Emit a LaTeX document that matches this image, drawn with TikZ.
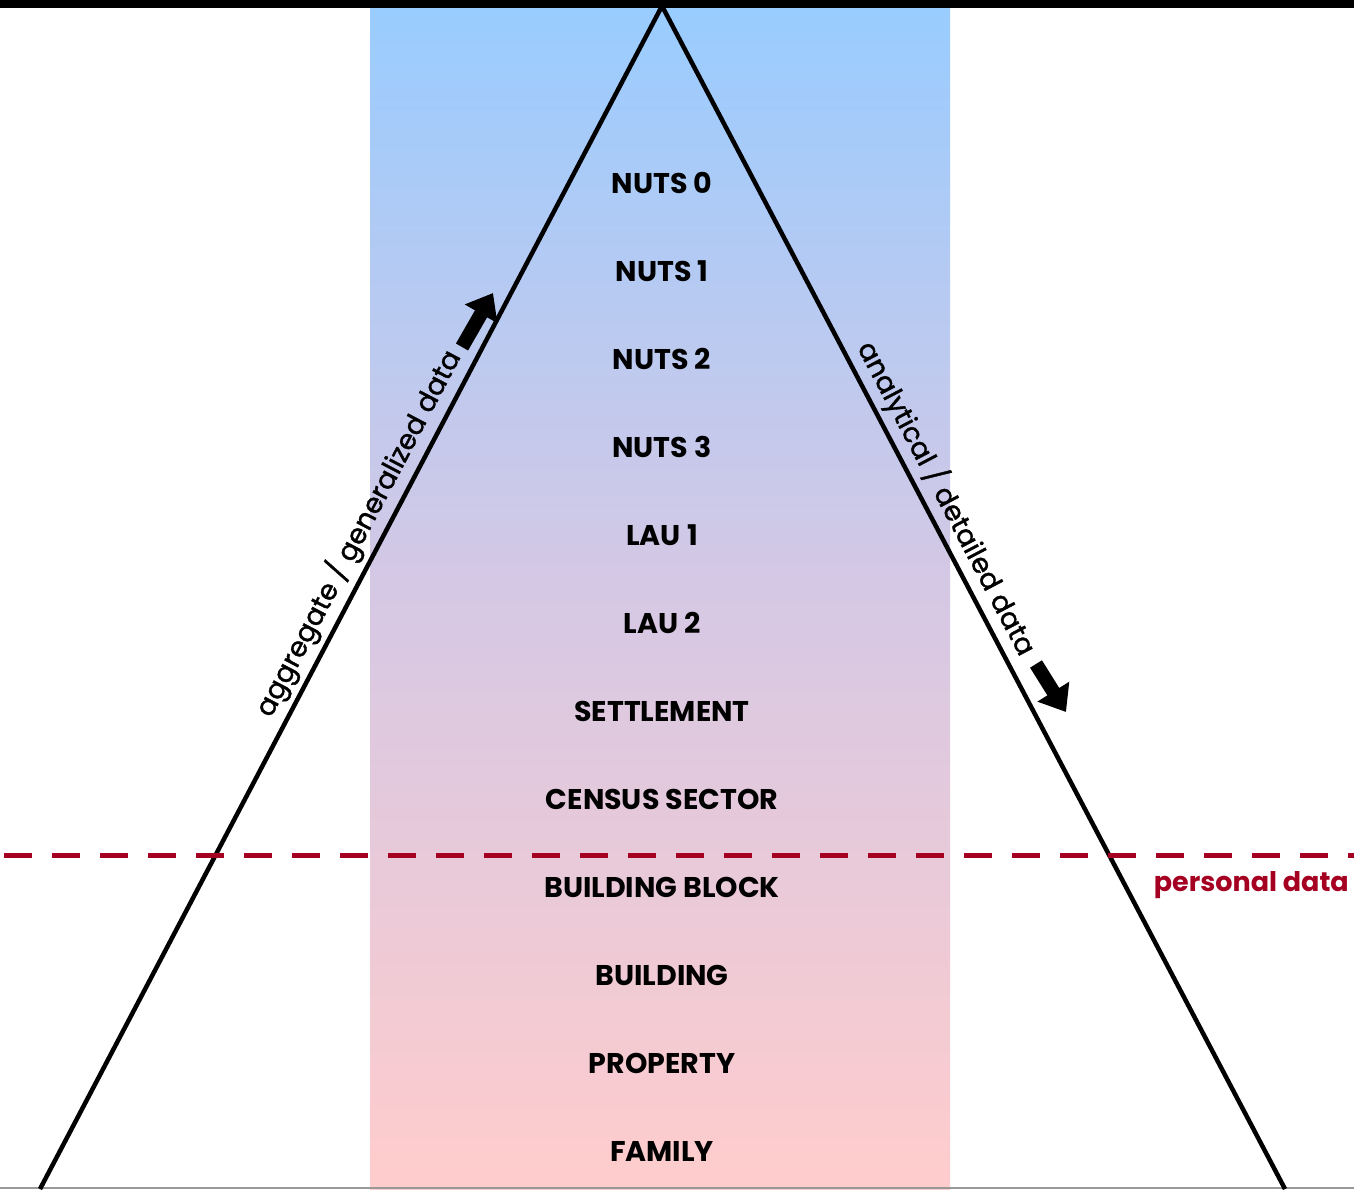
\documentclass[tikz,border=0pt]{standalone}
\usepackage{fontspec}
\setmainfont{Poppins}
\newfontfamily\sidefont[FakeBold=1.3]{Poppins}
\usetikzlibrary{arrows.meta}
\definecolor{topblue}{HTML}{99CCFF}
\definecolor{midlav}{HTML}{D6C8E4}
\definecolor{botpink}{HTML}{FFCCCC}
\definecolor{pdred}{HTML}{A50021}
\tikzset{
  level/.style={font=\fontsize{28.5}{30}\selectfont\bfseries, text=black, inner sep=0pt, anchor=center},
  side/.style={font=\sidefont\fontsize{27.5}{30}\selectfont, text=black, inner sep=0pt},
  blockarrow/.style={line width=14pt, -{Triangle[length=24pt,width=36pt]}, black},
  edge/.style={line width=4.5pt, black, line join=miter},
}
\begin{document}
\begin{tikzpicture}[x=1pt,y=-1pt]
\useasboundingbox (0,0) rectangle (1354,1189);
\fill[white] (0,0) rectangle (1354,1189);
\shade[top color=topblue, bottom color=botpink, middle color=midlav] (370,8) rectangle (950,1189);
\fill[black] (0,0) rectangle (1354,8);
\draw[gray!80, line width=2pt] (0,1188) -- (1354,1188);
\coordinate (L) at (40,1189);
\coordinate (A) at (662,6);
\coordinate (R) at (1285,1189);
\draw[edge] (L) -- (A) -- (R);
\path (L) -- (A) node[side, pos=0.545, sloped, above=7pt] (lt) {aggregate / generalized data};
\path (A) -- (R) node[side, pos=0.425, sloped, above=6pt] (rt) {analytical / detailed data};
\coordinate (la1) at (462,347);
\coordinate (la2) at (493,293);
\draw[blockarrow] (la1) -- (la2);
\coordinate (ra1) at (1036,664);
\coordinate (ra2) at (1066,712);
\draw[blockarrow] (ra1) -- (ra2);
\coordinate (d1) at (4,855);
\coordinate (d2) at (1354,855);
\draw[pdred, line width=5pt, dash pattern=on 28pt off 20pt] (d1) -- (d2);
\node[font=\fontsize{27}{29}\selectfont\bfseries, text=pdred, anchor=east, inner sep=0pt] (pd) at (1349,885) {personal data};
\node[level] (n0) at (662,183) {NUTS 0};
\node[level] (n1) at (662,271) {NUTS 1};
\node[level] (n2) at (662,359) {NUTS 2};
\node[level] (n3) at (662,447) {NUTS 3};
\node[level] (l1) at (662,535) {LAU 1};
\node[level] (l2) at (662,623) {LAU 2};
\node[level] (st) at (662,711) {SETTLEMENT};
\node[level] (cs) at (662,799) {CENSUS SECTOR};
\node[level] (bb) at (662,887) {BUILDING BLOCK};
\node[level] (bu) at (662,975) {BUILDING};
\node[level] (pr) at (662,1063) {PROPERTY};
\node[level] (fa) at (662,1151) {FAMILY};
\end{tikzpicture}
\end{document}
